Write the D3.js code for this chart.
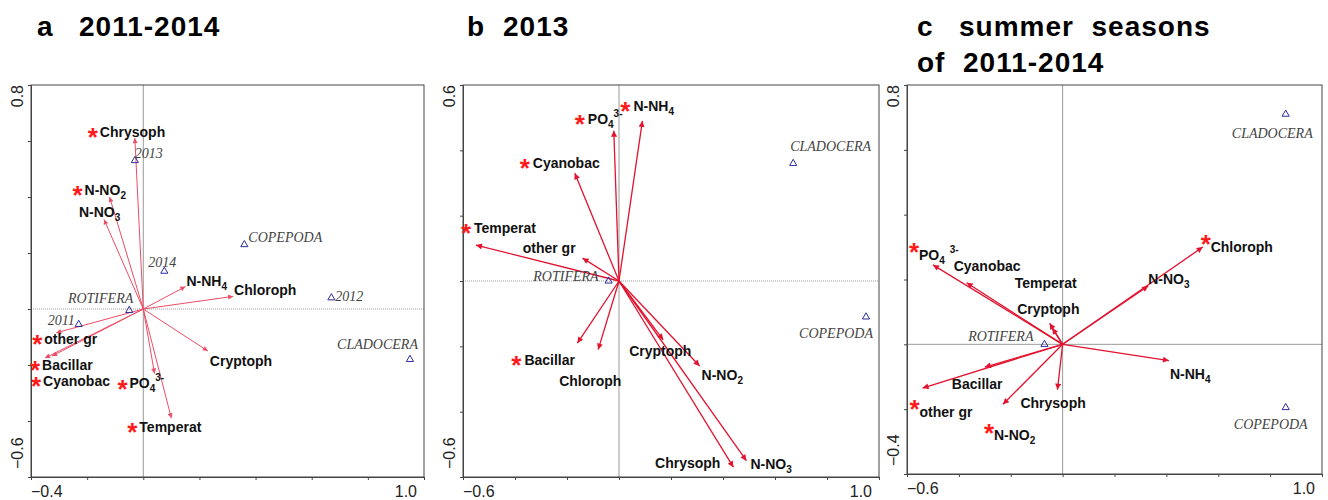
<!DOCTYPE html>
<html>
<head>
<meta charset="utf-8">
<script src="https://cdn.jsdelivr.net/npm/d3@7"></script>
<style>
  body { margin: 0; background: #fff; }
  svg { display: block; }
  .ttl { white-space: pre; }
</style>
</head>
<body>
<svg id="chart" width="1328" height="500"></svg>
<script>
// ---- data: panel a (2011-2014) ----
const varsA = ['Chrysoph', 'N-NO2', 'N-NO3', 'N-NH4', 'Chloroph', 'Cryptoph', 'Temperat', 'PO4', 'other gr', 'Bacillar', 'Cyanobac'];
const ax1A = [-0.03, -0.12, -0.14, 0.15, 0.32, 0.23, 0.10, 0.04, -0.31, -0.35, -0.325];
const ax2A = [0.61, 0.40, 0.32, 0.08, 0.045, -0.15, -0.39, -0.23, -0.085, -0.175, -0.168];
const sigA = ['Chrysoph', 'N-NO2', 'Temperat', 'PO4', 'other gr', 'Bacillar', 'Cyanobac'];
const ptsA = ['2013', 'COPEPODA', '2014', '2012', 'ROTIFERA', '2011', 'CLADOCERA'];
const pt1A = [-0.03, 0.36, 0.075, 0.67, -0.05, -0.23, 0.95];
const pt2A = [0.53, 0.23, 0.135, 0.04, -0.005, -0.055, -0.18];
const xTicksA = [-0.4, -0.2, 0, 0.2, 0.4, 0.6, 0.8, 1.0];
const yTicksA = [-0.6, -0.4, -0.2, 0, 0.2, 0.4, 0.6, 0.8];

// ---- data: panel b (2013) ----
const varsB = ['N-NH4', 'PO4', 'Cyanobac', 'Temperat', 'other gr', 'Bacillar', 'Chloroph', 'Cryptoph', 'N-NO2', 'N-NO3', 'Chrysoph'];
const ax1B = [0.09, -0.02, -0.17, -0.55, -0.14, -0.16, -0.08, 0.17, 0.31, 0.49, 0.44];
const ax2B = [0.49, 0.46, 0.33, 0.11, 0.07, -0.19, -0.21, -0.18, -0.26, -0.55, -0.57];
const sigB = ['N-NH4', 'PO4', 'Cyanobac', 'Temperat', 'Bacillar'];
const ptsB = ['CLADOCERA', 'COPEPODA', 'ROTIFERA'];
const pt1B = [0.67, 0.95, -0.04];
const pt2B = [0.36, -0.11, 0];
const xTicksB = [-0.6, -0.4, -0.2, 0, 0.2, 0.4, 0.6, 0.8, 1.0];
const yTicksB = [-0.6, -0.4, -0.2, 0, 0.2, 0.4, 0.6];

// ---- data: panel c (summer seasons of 2011-2014) ----
const varsC = ['PO4', 'Cyanobac', 'Temperat', 'Cryptoph', 'Chloroph', 'N-NO3', 'N-NH4', 'Bacillar', 'other gr', 'N-NO2', 'Chrysoph'];
const ax1C = [-0.50, -0.37, -0.05, -0.04, 0.54, 0.33, 0.41, -0.30, -0.54, -0.23, -0.02];
const ax2C = [0.245, 0.19, 0.065, 0.05, 0.30, 0.18, -0.05, -0.07, -0.135, -0.185, -0.14];
const sigC = ['PO4', 'Chloroph', 'other gr', 'N-NO2'];
const ptsC = ['CLADOCERA', 'COPEPODA', 'ROTIFERA'];
const pt1C = [0.86, 0.86, -0.07];
const pt2C = [0.71, -0.195, 0];
const xTicksC = [-0.6, -0.4, -0.2, 0, 0.2, 0.4, 0.6, 0.8, 1.0];
const yTicksC = [-0.4, -0.2, 0, 0.2, 0.4, 0.6, 0.8];

// label placement, px offset from arrow tip / triangle: [dx, dy, anchor]
const labA = {
  'Chrysoph': [-35, -1, 'start'], 'N-NO2': [-25, -2, 'start'], 'N-NO3': [-25, -2, 'start'],
  'N-NH4': [1, -1, 'start'], 'Chloroph': [1, -1, 'start'], 'Cryptoph': [2, 15, 'start'],
  'Temperat': [-32, 14, 'start'], 'PO4': [-25, 15, 'start'], 'other gr': [-12, 11, 'start'],
  'Bacillar': [-3, 12, 'start'], 'Cyanobac': [-9, 30, 'start'],
  '2013': [0, -3, 'start'], 'COPEPODA': [4, -3, 'start'], '2014': [-16, -4, 'start'],
  '2012': [4, 3, 'start'], 'ROTIFERA': [4, -7, 'end'], '2011': [-4, 1, 'end'], 'CLADOCERA': [8, -10, 'end']
};
const labB = {
  'N-NH4': [-9, -10, 'start'], 'PO4': [-26, -7, 'start'], 'Cyanobac': [-42, -5, 'start'],
  'Temperat': [-2, -12, 'start'], 'other gr': [-7, -5, 'end'], 'Bacillar': [-53, 22, 'start'],
  'Chloroph': [-39, 36, 'start'], 'Cryptoph': [-34, 16, 'start'], 'N-NO2': [2, 14, 'start'],
  'Chrysoph': [-13, 1, 'end'], 'N-NO3': [4, 8, 'start'],
  'CLADOCERA': [-3, -12, 'start'], 'COPEPODA': [7, 21, 'end'], 'ROTIFERA': [-10, 0, 'end']
};
const labC = {
  'PO4': [-14, -5, 'start'], 'Cyanobac': [-13, -12, 'start'], 'Temperat': [-35, -35, 'start'],
  'Cryptoph': [-35, -14, 'start'], 'Chloroph': [8, 5, 'start'], 'N-NO3': [0, -2, 'start'],
  'N-NH4': [1, 18, 'start'], 'Bacillar': [-33, 22, 'start'], 'other gr': [-3, 29, 'start'],
  'N-NO2': [-9, 36, 'start'], 'Chrysoph': [-37, 18, 'start'],
  'CLADOCERA': [27, 24, 'end'], 'COPEPODA': [22, 21, 'end'], 'ROTIFERA': [-11, -3, 'end']
};

const panels = [
  { letter: 'a', title: ['2011-2014'], tx: 37, tx2: 79, box: [31, 424, 85, 477],
    vars: varsA, a1: ax1A, a2: ax2A, sig: sigA, pts: ptsA, p1: pt1A, p2: pt2A,
    xt: xTicksA, yt: yTicksA, lab: labA, star: [-7, -6], arrow: '#ec4d66', aw: 1, head: [7, 5], hdash: '1,1', supGap: 0 },
  { letter: 'b', title: ['2013'], tx: 467, tx2: 503, box: [463, 879, 85, 477],
    vars: varsB, a1: ax1B, a2: ax2B, sig: sigB, pts: ptsB, p1: pt1B, p2: pt2B,
    xt: xTicksB, yt: yTicksB, lab: labB, star: [-8, -6], arrow: '#e2132f', aw: 1.3, head: [9, 6], hdash: '1,1', supGap: 0 },
  { letter: 'c', title: ['summer  seasons', 'of  2011-2014'], tx: 917, tx2: 959, box: [907, 1322, 85, 474],
    vars: varsC, a1: ax1C, a2: ax2C, sig: sigC, pts: ptsC, p1: pt1C, p2: pt2C,
    xt: xTicksC, yt: yTicksC, lab: labC, star: [-5, -14], arrow: '#e2132f', aw: 1.3, head: [9, 6], hdash: null, supGap: 5 }
];

const svg = d3.select('#chart');
const defs = svg.append('defs');
const sans = "'Liberation Sans', Arial, sans-serif";
const serif = "'Liberation Serif', 'Times New Roman', serif";

// label parts with sub/superscripts
const parts = {
  'N-NO2': [['N-NO', ''], ['2', 'sub']],
  'N-NO3': [['N-NO', ''], ['3', 'sub']],
  'N-NH4': [['N-NH', ''], ['4', 'sub']],
  'PO4': [['PO', ''], ['4', 'sub'], ['3-', 'sup']]
};

function varLabel(g, name, x, y, anchor, p) {
  const t = g.append('text')
    .attr('x', x).attr('y', y)
    .attr('text-anchor', anchor)
    .attr('font-family', sans)
    .attr('font-weight', 'bold')
    .attr('font-size', 14)
    .attr('fill', '#111');
  const pp = parts[name] || [[name, '']];
  let shift = 0;
  pp.forEach(([s, kind]) => {
    const ts = t.append('tspan').text(s);
    if (kind === 'sub') {
      ts.attr('font-size', 10).attr('dy', 4 - shift);
      shift = 4;
    } else if (kind === 'sup') {
      ts.attr('font-size', 10).attr('dy', -7 - shift).attr('dx', p.supGap);
      shift = -7;
    }
  });
  if (p.sig.includes(name)) {
    const bb = t.node().getBBox();
    const fs = 26;
    g.append('text')
      .attr('x', bb.x + p.star[0])
      .attr('y', y + p.star[1] + fs * 0.585)
      .attr('text-anchor', 'middle')
      .attr('font-family', sans)
      .attr('font-weight', 'bold')
      .attr('font-size', fs)
      .attr('fill', '#ff1a1a')
      .text('*');
  }
}

panels.forEach((p, pi) => {
  const [left, right, top, bottom] = p.box;
  const x = d3.scaleLinear().domain([p.xt[0], p.xt[p.xt.length - 1]]).range([left, right]);
  const y = d3.scaleLinear().domain([p.yt[0], p.yt[p.yt.length - 1]]).range([bottom, top]);
  const g = svg.append('g');

  // title
  const title = g.append('g')
    .attr('font-family', sans)
    .attr('font-weight', 'bold')
    .attr('font-size', 28)
    .attr('letter-spacing', 1)
    .attr('fill', '#000');
  title.append('text').attr('x', p.tx).attr('y', 36).text(p.letter);
  title.append('text').attr('class', 'ttl').attr('x', p.tx2).attr('y', 36).text(p.title[0]);
  if (p.title[1]) {
    title.append('text').attr('class', 'ttl').attr('x', p.tx).attr('y', 72).text(p.title[1]);
  }

  // zero lines
  g.append('line')
    .attr('x1', x(0)).attr('x2', x(0)).attr('y1', top).attr('y2', bottom)
    .attr('stroke', '#9a9a9a').attr('stroke-width', 1);
  g.append('line')
    .attr('x1', left).attr('x2', right).attr('y1', y(0)).attr('y2', y(0))
    .attr('stroke', '#9a9a9a').attr('stroke-width', 1)
    .attr('stroke-dasharray', p.hdash);

  // frame
  g.append('rect')
    .attr('x', left).attr('y', top)
    .attr('width', right - left).attr('height', bottom - top)
    .attr('fill', 'none').attr('stroke', '#444').attr('stroke-width', 1);

  // axes (ticks only)
  g.append('g')
    .attr('transform', `translate(0,${bottom})`)
    .call(d3.axisBottom(x).tickValues(p.xt).tickSize(3).tickSizeOuter(0).tickFormat(''))
    .call((s) => s.selectAll('line,path').attr('stroke', '#444'));
  g.append('g')
    .attr('transform', `translate(${left},0)`)
    .call(d3.axisLeft(y).tickValues(p.yt).tickSize(3).tickSizeOuter(0).tickFormat(''))
    .call((s) => s.selectAll('line,path').attr('stroke', '#444'));

  // end tick labels
  const fmt = d3.format('.1f');
  const lab = g.append('g').attr('font-family', sans).attr('font-size', 16).attr('fill', '#222');
  lab.append('text').attr('x', x(p.xt[0])).attr('y', bottom + 20)
    .attr('text-anchor', 'start').text(fmt(p.xt[0]));
  lab.append('text').attr('x', x(p.xt[p.xt.length - 1]) - 7).attr('y', bottom + 20)
    .attr('text-anchor', 'end').text(fmt(p.xt[p.xt.length - 1]));
  lab.append('text')
    .attr('transform', `translate(${left - 8},${y(p.yt[p.yt.length - 1])}) rotate(-90)`)
    .attr('text-anchor', 'end').text(fmt(p.yt[p.yt.length - 1]));
  lab.append('text')
    .attr('transform', `translate(${left - 8},${y(p.yt[0]) - 8}) rotate(-90)`)
    .attr('text-anchor', 'start').text(fmt(p.yt[0]));

  // arrowhead marker
  const mid = `head${pi}`;
  defs.append('marker')
    .attr('id', mid)
    .attr('viewBox', '0 0 10 10')
    .attr('refX', 10).attr('refY', 5)
    .attr('markerUnits', 'userSpaceOnUse')
    .attr('markerWidth', p.head[0]).attr('markerHeight', p.head[1])
    .attr('orient', 'auto')
    .append('path')
    .attr('d', 'M0,0 L10,5 L0,10 z')
    .attr('fill', p.arrow);

  // arrows
  const rows = p.vars.map((v, i) => ({ name: v, a1: p.a1[i], a2: p.a2[i] }));
  g.append('g').selectAll('line')
    .data(rows)
    .enter()
    .append('line')
    .attr('x1', x(0)).attr('y1', y(0))
    .attr('x2', (d) => x(d.a1)).attr('y2', (d) => y(d.a2))
    .attr('stroke', p.arrow).attr('stroke-width', p.aw)
    .attr('marker-end', `url(#${mid})`);

  // arrow labels
  const lg = g.append('g');
  rows.forEach((d) => {
    const [dx, dy, anchor] = p.lab[d.name];
    varLabel(lg, d.name, x(d.a1) + dx, y(d.a2) + dy, anchor, p);
  });

  // triangles
  const prow = p.pts.map((v, i) => ({ name: v, a1: p.p1[i], a2: p.p2[i] }));
  g.append('g').selectAll('path')
    .data(prow)
    .enter()
    .append('path')
    .attr('d', d3.symbol(d3.symbolTriangle, 22))
    .attr('transform', (d) => `translate(${x(d.a1)},${y(d.a2)})`)
    .attr('fill', 'none').attr('stroke', '#2d2d9c').attr('stroke-width', 1);

  g.append('g').selectAll('text')
    .data(prow)
    .enter()
    .append('text')
    .attr('x', (d) => x(d.a1) + p.lab[d.name][0])
    .attr('y', (d) => y(d.a2) + p.lab[d.name][1])
    .attr('text-anchor', (d) => p.lab[d.name][2])
    .attr('font-family', serif)
    .attr('font-style', 'italic')
    .attr('font-size', 14)
    .attr('fill', '#444')
    .text((d) => d.name);
});
</script>
</body>
</html>
